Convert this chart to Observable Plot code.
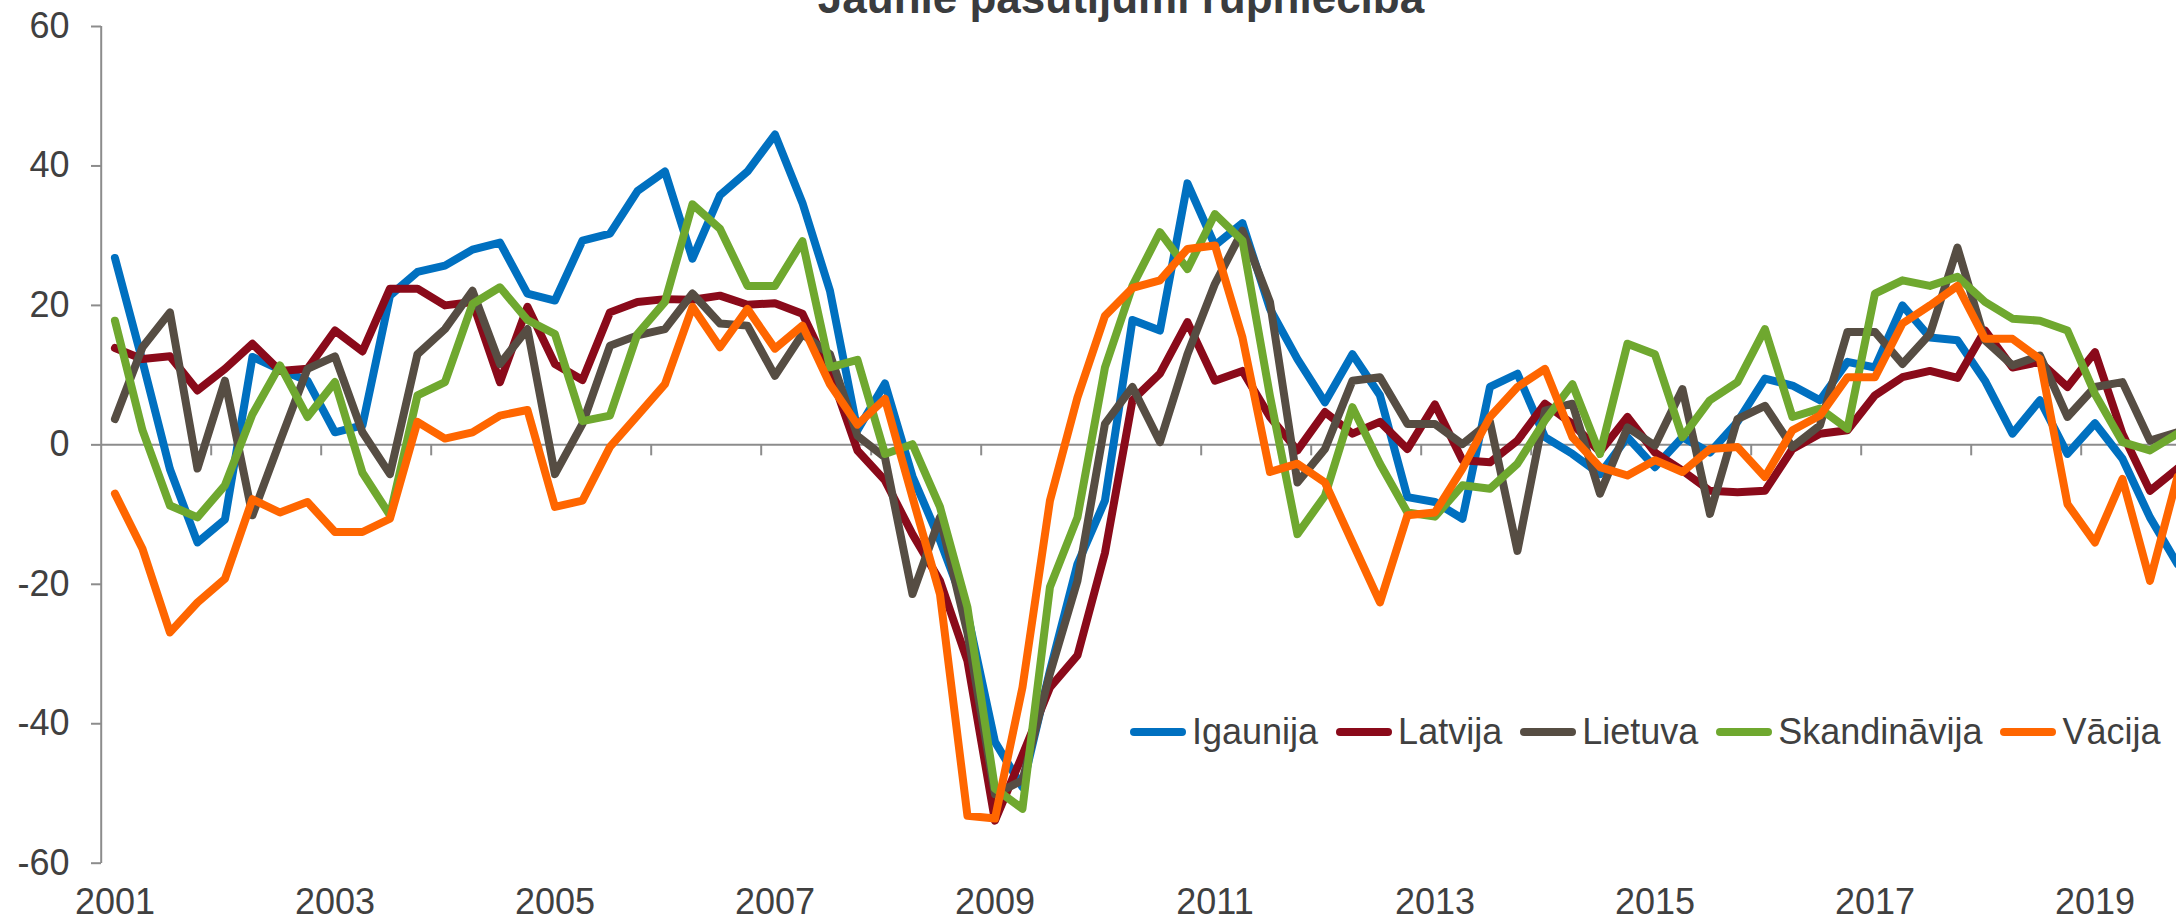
<!DOCTYPE html>
<html>
<head>
<meta charset="utf-8">
<script src="https://cdn.jsdelivr.net/npm/d3@7"></script>
<script src="https://cdn.jsdelivr.net/npm/@observablehq/plot@0.6"></script>
<style>
html, body { margin: 0; padding: 0; background: #fff; overflow: hidden; width: 2176px; height: 924px; }
#wrap { position: relative; width: 2176px; height: 924px; font-family: "Liberation Sans", Arial, sans-serif; overflow: hidden; }
#chart { position: absolute; left: 0; top: 0; }
#title { position: absolute; left: 1121px; top: -24px; transform: translateX(-50%); font-size: 44px; line-height: 44px; font-weight: bold; color: #3a3c3e; white-space: nowrap; }
#legend { position: absolute; left: 1130px; top: 714px; display: flex; align-items: center; font-size: 36px; line-height: 36px; color: #404040; white-space: nowrap; }
.item { display: flex; align-items: center; margin-right: 18px; }
.sw { width: 56px; height: 8px; border-radius: 4px; margin-right: 6px; }
</style>
</head>
<body>
<div id="wrap">
  <div id="chart"></div>
  <div id="title">Jaunie pasūtījumi rūpniecībā</div>
  <div id="legend"></div>
</div>
<script>
// Quarterly categories 2001Q1 .. 2019Q4
const firstYear = 2001;
const lastYear = 2019;
const quarters = [];
for (let y = firstYear; y <= lastYear; y++) for (let q = 1; q <= 4; q++) quarters.push({year: y, q});

// Tick labels
const xLabels = ["2001", "2003", "2005", "2007", "2009", "2011", "2013", "2015", "2017", "2019"];
const yTicks = [-60, -40, -20, 0, 20, 40, 60];

// Series names and colours
const seriesNames = ["Igaunija", "Latvija", "Lietuva", "Skandināvija", "Vācija"];
const seriesColors = ["#0070C0", "#8A0A1A", "#564D43", "#6FA82F", "#FF6600"];

// Series values
const igaunija = [26.8, 12, -3.5, -14.0, -10.7, 12.6, 10.8, 9.2, 1.8, 2.8, 21.4, 24.8, 25.7, 28.0, 29.0, 21.7,
  20.7, 29.3, 30.3, 36.4, 39.2, 26.7, 35.8, 39.2, 44.5, 34.7, 22.1, 2.1, 8.8, -4.5, -13.7, -24.2,
  -42.6, -49.1, -32.4, -17.1, -8.0, 17.9, 16.4, 37.5, 28.6, 31.8, 19.5, 12.3, 6.1, 13.0, 7.1, -7.5,
  -8.2, -10.6, 8.3, 10.2, 1.1, -1.3, -4.2, 1.1, -3.2, 1.1, -1.1, 3.3, 9.5, 8.5, 6.4, 11.9,
  11.1, 20.0, 15.4, 15.0, 9.2, 1.6, 6.4, -1.3, 3.1, -2.0, -10.4, -17.1];
const latvija = [13.9, 12.3, 12.7, 7.8, 10.9, 14.5, 10.6, 10.9, 16.4, 13.4, 22.4, 22.4, 20.0, 20.5, 9.0, 19.8,
  11.6, 9.3, 19.0, 20.5, 20.9, 20.8, 21.4, 20.1, 20.3, 18.8, 10.5, -0.8, -5.1, -12.8, -19.5, -31.0,
  -53.9, -44.5, -34.8, -30.2, -15.5, 6.4, 10.2, 17.6, 9.2, 10.6, 4.0, -0.8, 4.7, 1.6, 3.3, -0.6,
  5.8, -2.2, -2.5, 0.6, 5.9, 3.0, -1.0, 4.0, -1.1, -3.7, -6.6, -6.8, -6.6, -0.6, 1.6, 2.1,
  7.1, 9.7, 10.6, 9.6, 16.4, 11.1, 11.9, 8.3, 13.3, 1.6, -6.6, -3.4];
const lietuva = [3.7, 14.0, 19.0, -3.4, 9.2, -10.1, 0.5, 10.9, 12.7, 1.8, -4.2, 13.0, 16.6, 22.1, 11.6, 16.6,
  -4.2, 3.0, 14.2, 15.7, 16.6, 21.7, 17.4, 17.1, 9.9, 15.9, 13.0, 1.3, -1.8, -21.4, -10.4, -27.0,
  -50.1, -48.1, -32.8, -19.5, 3.0, 8.3, 0.4, 13.0, 23.1, 30.7, 20.5, -5.4, -0.6, 9.2, 9.7, 3.0,
  3.0, 0.1, 3.3, -15.2, 4.9, 5.9, -7.0, 2.5, -0.1, 8.0, -9.9, 3.7, 5.6, -0.3, 2.8, 16.2,
  16.2, 11.6, 15.9, 28.3, 15.0, 11.4, 12.8, 4.0, 8.3, 9.0, 0.6, 1.8];
const skandinavija = [17.8, 2.1, -8.7, -10.4, -5.8, 4.4, 11.4, 4.0, 9.0, -4.0, -10.1, 7.1, 9.0, 20.2, 22.6, 17.9,
  15.9, 3.4, 4.2, 15.9, 20.5, 34.5, 31.0, 22.8, 22.8, 29.2, 11.1, 12.2, -1.3, 0.1, -8.9, -23.3,
  -49.3, -52.2, -20.4, -10.4, 11.1, 22.8, 30.5, 25.2, 33.1, 29.3, 7.0, -12.8, -7.3, 5.4, -2.7, -9.7,
  -10.3, -5.8, -6.3, -2.7, 3.5, 8.7, -1.3, 14.5, 13.0, 1.1, 6.4, 9.0, 16.6, 4.0, 5.2, 2.3,
  21.7, 23.6, 22.8, 24.1, 20.5, 18.1, 17.8, 16.4, 7.3, 0.4, -0.8, 1.6];
const vacija = [-7.0, -14.9, -26.9, -22.6, -19.2, -7.8, -9.7, -8.2, -12.5, -12.5, -10.6, 3.3, 0.9, 1.8, 4.2, 5.0,
  -8.9, -8.0, -0.3, 4.2, 8.7, 19.8, 14.0, 19.5, 13.8, 17.1, 8.7, 2.9, 6.6, -7.5, -21.4, -53.2,
  -53.6, -34.8, -8.0, 6.8, 18.5, 22.5, 23.6, 28.1, 28.6, 15.4, -3.9, -2.7, -5.4, -14.0, -22.6, -10.1,
  -9.7, -3.4, 4.0, 8.3, 10.9, 1.1, -3.2, -4.4, -2.2, -3.9, -0.6, -0.3, -4.6, 2.1, 4.2, 9.7,
  9.7, 17.4, 20.0, 22.8, 15.2, 15.2, 12.3, -8.5, -14.0, -4.9, -19.5, -4.6];

const seriesValues = [igaunija, latvija, lietuva, skandinavija, vacija];

// Build the long table
const rows = [];
seriesValues.forEach((vals, k) => {
  vals.forEach((v, i) => {
    const qq = quarters[i];
    rows.push({t: qq.year + (qq.q - 0.5) / 4, v, s: seriesNames[k]});
  });
});

const yearBoundaries = d3.range(firstYear + 1, lastYear + 2);
const labelPositions = xLabels.map(s => +s + 0.125);

const axisGray = "#8c8c8c";
const textGray = "#404040";

const chart = Plot.plot({
  width: 2176,
  height: 924,
  marginLeft: 101,
  marginRight: 0,
  marginTop: 26,
  marginBottom: 61,
  x: {domain: [firstYear, lastYear + 1], range: [100.7, 2190.7]},
  y: {domain: [-60, 60], range: [862.7, 26]},
  color: {domain: seriesNames, range: seriesColors},
  style: {fontFamily: "'Liberation Sans', Arial, sans-serif", background: "transparent", overflow: "visible"},
  marks: [
    Plot.ruleY([0], {stroke: axisGray, strokeWidth: 2}),
    Plot.ruleX([firstYear], {stroke: axisGray, strokeWidth: 2}),
    Plot.ruleX(yearBoundaries, {x: d => d, y1: 0, y2: 0, insetBottom: -11, stroke: axisGray, strokeWidth: 2}),
    Plot.axisY({ticks: yTicks, tickFormat: d => String(d), tickSize: 10, tickPadding: 22, fontSize: 36,
      stroke: axisGray, strokeWidth: 2, fill: textGray, label: null}),
    Plot.axisX({ticks: labelPositions, tickFormat: d => String(Math.round(d - 0.125)), tickSize: 0, tickPadding: 25,
      fontSize: 36, fill: textGray, label: null}),
    Plot.line(rows, {x: "t", y: "v", z: "s", stroke: "s", strokeWidth: 8, strokeLinejoin: "round", strokeLinecap: "round"})
  ]
});
document.getElementById("chart").appendChild(chart);

// Legend
const legend = document.getElementById("legend");
seriesNames.forEach((name, k) => {
  const item = document.createElement("div");
  item.className = "item";
  const sw = document.createElement("div");
  sw.className = "sw";
  sw.style.background = seriesColors[k];
  const label = document.createElement("span");
  label.textContent = name;
  item.appendChild(sw);
  item.appendChild(label);
  legend.appendChild(item);
});
</script>
</body>
</html>
